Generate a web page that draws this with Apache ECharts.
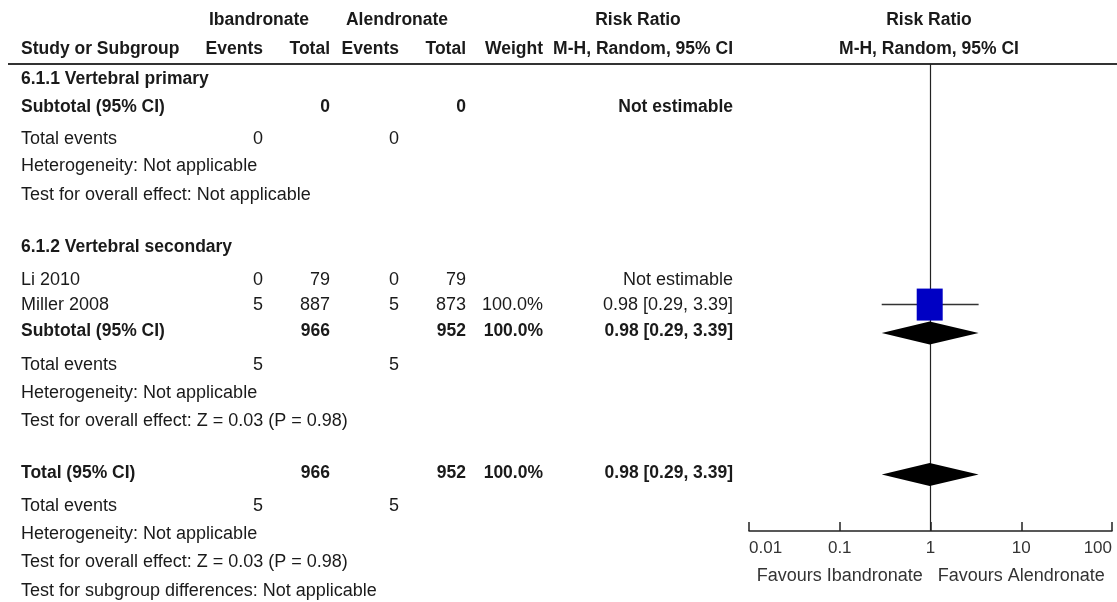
<!DOCTYPE html>
<html>
<head>
<meta charset="utf-8">
<script src="https://cdn.jsdelivr.net/npm/echarts@6/dist/echarts.min.js"></script>
<style>
html,body{margin:0;padding:0;background:#fff;}
#chart{width:1117px;height:602px;}
</style>
</head>
<body>
<div id="chart"></div>
<script>
// ---- data ----
const groupHeaders = ['Ibandronate', 'Alendronate'];
const colHeaders = ['Study or Subgroup', 'Events', 'Total', 'Events', 'Total', 'Weight', 'M-H, Random, 95% CI'];
const plotHeader = ['Risk Ratio', 'M-H, Random, 95% CI'];
const studyNames = ['Li 2010', 'Miller 2008'];
const ibEvents = [0, 5];
const ibTotals = [79, 887];
const alEvents = [0, 5];
const alTotals = [79, 873];
const studyWeights = ['', '100.0%'];
const studyRR = [null, 0.98];
const studyLo = [null, 0.29];
const studyHi = [null, 3.39];
const subtotalRR = [0.98, 0.29, 3.39];
const totalRR = [0.98, 0.29, 3.39];
const tickValues = [0.01, 0.1, 1, 10, 100];
const favoursLabels = ['Favours Ibandronate', 'Favours Alendronate'];

function fmtCI(r, l, h) { return r.toFixed(2) + ' [' + l.toFixed(2) + ', ' + h.toFixed(2) + ']'; }

// rows: [row index, bold, cells: study, ev1, tot1, ev2, tot2, weight, ci]
const rows = [
  [0, true, ['6.1.1 Vertebral primary']],
  [1, true, ['Subtotal (95% CI)', '', '0', '', '0', '', 'Not estimable']],
  [2, false, ['Total events', '0', '', '0']],
  [3, false, ['Heterogeneity: Not applicable']],
  [4, false, ['Test for overall effect: Not applicable']],
  [6, true, ['6.1.2 Vertebral secondary']],
  [7, false, [studyNames[0], String(ibEvents[0]), String(ibTotals[0]), String(alEvents[0]), String(alTotals[0]), studyWeights[0], 'Not estimable']],
  [8, false, [studyNames[1], String(ibEvents[1]), String(ibTotals[1]), String(alEvents[1]), String(alTotals[1]), studyWeights[1], fmtCI(studyRR[1], studyLo[1], studyHi[1])]],
  [9, true, ['Subtotal (95% CI)', '', String(ibTotals[0] + ibTotals[1]), '', String(alTotals[0] + alTotals[1]), '100.0%', fmtCI(subtotalRR[0], subtotalRR[1], subtotalRR[2])]],
  [10, false, ['Total events', String(ibEvents[0] + ibEvents[1]), '', String(alEvents[0] + alEvents[1])]],
  [11, false, ['Heterogeneity: Not applicable']],
  [12, false, ['Test for overall effect: Z = 0.03 (P = 0.98)']],
  [14, true, ['Total (95% CI)', '', String(ibTotals[0] + ibTotals[1]), '', String(alTotals[0] + alTotals[1]), '100.0%', fmtCI(totalRR[0], totalRR[1], totalRR[2])]],
  [15, false, ['Total events', String(ibEvents[0] + ibEvents[1]), '', String(alEvents[0] + alEvents[1])]],
  [16, false, ['Heterogeneity: Not applicable']],
  [17, false, ['Test for overall effect: Z = 0.03 (P = 0.98)']],
  [18, false, ['Test for subgroup differences: Not applicable']]
];

// ---- layout ----
const FONT = '"Liberation Sans", Arial, sans-serif';
const TXT = '#1a1a1a';
const colX = [21, 263, 330, 399, 466, 543, 733];
const colAlign = ['left', 'right', 'right', 'right', 'right', 'right', 'right'];
// text line centres (px) per row index
const textLineY = {0: 79, 1: 107, 2: 139, 3: 166, 4: 195, 6: 247, 7: 280, 8: 305, 9: 331,
  10: 365, 11: 393, 12: 421, 14: 473, 15: 506, 16: 534, 17: 562, 18: 591};
const GRID = { left: 749, right: 5, top: 64, height: 467 };
const YMIN = -0.5, YMAX = 16;

const graphic = [];
function txt(x, y, s, bold, align, size, color) {
  graphic.push({
    type: 'text', x: x, y: y, silent: true,
    style: {
      text: s, fill: color || TXT, align: align || 'left', verticalAlign: 'middle',
      font: (bold ? 'bold ' : '') + (size || (bold ? 17.5 : 18)) + 'px ' + FONT
    }
  });
}
// header
txt(259, 20, groupHeaders[0], true, 'center');
txt(397, 20, groupHeaders[1], true, 'center');
txt(638, 20, plotHeader[0], true, 'center');
txt(929, 20, plotHeader[0], true, 'center');
colHeaders.forEach((h, k) => txt(colX[k], 49, h, true, colAlign[k]));
txt(929, 49, plotHeader[1], true, 'center');
graphic.push({ type: 'rect', shape: { x: 8, y: 63, width: 1109, height: 2 }, style: { fill: '#333' }, silent: true });

rows.forEach(r => {
  const y = textLineY[r[0]];
  r[2].forEach((c, k) => { if (c !== '') txt(colX[k], y, c, r[1], colAlign[k]); });
});

const chart = echarts.init(document.getElementById('chart'), null, { renderer: 'canvas' });

function diamondItem(params, api) {
  const row = api.value(3);
  const pl = api.coord([api.value(1), row]);
  const pc = api.coord([api.value(0), row]);
  const pr = api.coord([api.value(2), row]);
  const hh = 11.5;
  return {
    type: 'polygon',
    shape: { points: [pl, [pc[0], pc[1] - hh], pr, [pc[0], pc[1] + hh]] },
    style: { fill: '#000' }
  };
}

const option = {
  animation: false,
  backgroundColor: '#fff',
  grid: { left: GRID.left, right: GRID.right, top: GRID.top, height: GRID.height, containLabel: false },
  xAxis: {
    type: 'log', logBase: 10, min: tickValues[0], max: tickValues[tickValues.length - 1],
    splitLine: { show: false },
    axisLine: { onZero: false, lineStyle: { color: '#222', width: 1.5 } },
    axisTick: { inside: true, length: 9, lineStyle: { color: '#222', width: 1.5 } },
    axisLabel: {
      color: '#333', fontSize: 17, fontFamily: FONT, margin: 9,
      alignMinLabel: 'left', alignMaxLabel: 'right',
      formatter: v => String(+Number(v).toPrecision(3))
    }
  },
  yAxis: { type: 'value', inverse: true, min: YMIN, max: YMAX, show: false },
  graphic: graphic,
  series: [
    {
      type: 'line', data: [[1, YMIN], [1, YMAX]], symbol: 'none', silent: true, z: 1,
      lineStyle: { color: '#222', width: 1.2 }
    },
    {
      type: 'line', data: [[studyLo[1], 8], [studyHi[1], 8]], symbol: 'none', silent: true, z: 2,
      lineStyle: { color: '#333', width: 1.5 }
    },
    {
      type: 'scatter', data: [[studyRR[1], 8]], symbol: 'rect', symbolSize: [26, 32], silent: true, z: 3,
      itemStyle: { color: '#0000c4', opacity: 1 }
    },
    {
      type: 'custom', renderItem: diamondItem, silent: true, z: 4,
      data: [[subtotalRR[0], subtotalRR[1], subtotalRR[2], 9], [totalRR[0], totalRR[1], totalRR[2], 14]]
    }
  ]
};
chart.setOption(option);
// favours labels under the axis, centred on 0.1 and 10
const p1 = chart.convertToPixel({ xAxisIndex: 0 }, tickValues[1]);
const p2 = chart.convertToPixel({ xAxisIndex: 0 }, tickValues[3]);
const fav = graphic.slice();
fav.push({ type: 'text', x: p1, y: 576, silent: true, style: { text: favoursLabels[0], fill: '#333', align: 'center', verticalAlign: 'middle', font: '18px ' + FONT } });
fav.push({ type: 'text', x: p2, y: 576, silent: true, style: { text: favoursLabels[1], fill: '#333', align: 'center', verticalAlign: 'middle', font: '18px ' + FONT } });
chart.setOption({ graphic: fav }, { replaceMerge: ['graphic'] });
</script>
</body>
</html>
